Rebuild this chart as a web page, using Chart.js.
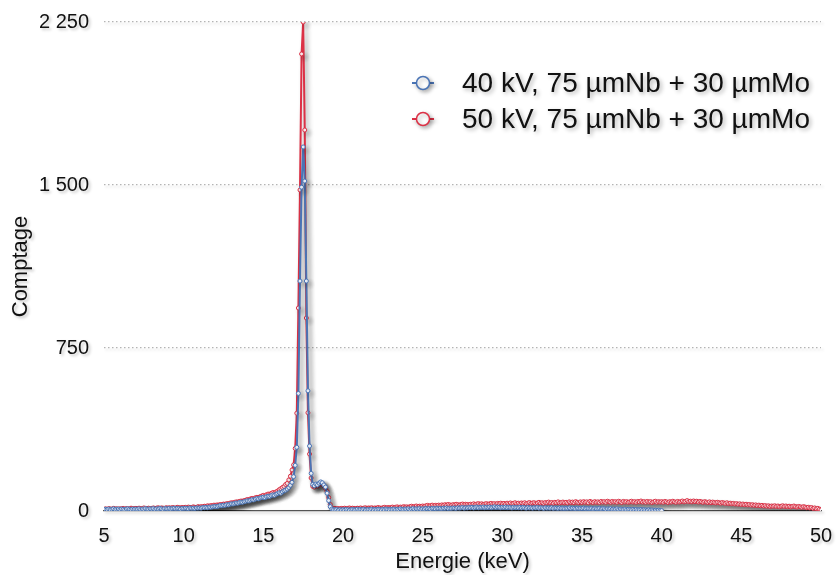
<!DOCTYPE html>
<html><head><meta charset="utf-8">
<script src="https://cdn.jsdelivr.net/npm/chart.js@4.4.1/dist/chart.umd.min.js"></script>
<style>html,body{margin:0;padding:0;background:#fff;}#wrap{width:836px;height:575px;position:relative;}</style>
</head><body><div id="wrap"><canvas id="c" width="836" height="575"></canvas></div>
<script>
// Energy grid (keV) of the spectra: first channel and channel width
const energyStart = 5.0;
const energyStep = 0.1;

// 40 kV, 75 µmNb + 30 µmMo  (5.0 .. 40.0 keV)
const counts40kV = [
  6, 8, 7, 9, 6, 8, 10, 7, 8, 9,
  7, 9, 8, 6, 9, 10, 8, 7, 9, 8,
  9, 8, 10, 7, 9, 8, 11, 9, 8, 10,
  9, 11, 8, 10, 9, 12, 10, 8, 11, 10,
  10, 12, 9, 11, 13, 10, 12, 11, 9, 12,
  11, 13, 12, 10, 14, 12, 13, 11, 14, 13,
  14, 13, 16, 15, 17, 15, 18, 17, 19, 20,
  21, 20, 23, 25, 24, 27, 26, 29, 28, 31,
  33, 32, 35, 37, 36, 39, 41, 40, 43, 45,
  47, 46, 50, 52, 51, 55, 57, 56, 60, 62,
  63, 61, 66, 68, 67, 71, 74, 72, 77, 80,
  84, 82, 88, 93, 96, 101, 108, 118, 132, 158,
  210, 293, 541, 1058, 1490, 1675, 1518, 1058, 553, 299,
  173, 122, 116, 124, 120, 128, 134, 130, 120, 110,
  82, 48, 20, 9, 6, 5, 7, 4, 6, 5,
  6, 5, 7, 6, 4, 6, 7, 5, 6, 8,
  5, 7, 6, 8, 5, 6, 7, 6, 8, 5,
  7, 6, 8, 7, 5, 8, 6, 9, 7, 6,
  8, 7, 9, 6, 8, 7, 10, 8, 7, 9,
  8, 10, 7, 9, 11, 8, 10, 9, 11, 8,
  10, 9, 12, 10, 11, 9, 12, 11, 10, 13,
  11, 12, 10, 13, 12, 14, 11, 13, 12, 14,
  13, 12, 15, 13, 14, 16, 13, 15, 14, 16,
  15, 17, 14, 16, 18, 15, 17, 16, 18, 15,
  17, 16, 18, 15, 17, 19, 16, 18, 17, 15,
  17, 16, 18, 15, 17, 16, 14, 17, 15, 16,
  15, 17, 14, 16, 15, 13, 16, 14, 15, 13,
  15, 14, 16, 13, 15, 14, 12, 15, 13, 14,
  13, 15, 12, 14, 13, 12, 14, 12, 13, 11,
  13, 12, 14, 11, 13, 12, 10, 13, 11, 12,
  11, 13, 10, 12, 11, 10, 12, 9, 11, 10,
  10, 12, 9, 11, 10, 8, 10, 9, 11, 8,
  9, 8, 10, 7, 9, 8, 7, 9, 6, 8,
  7, 6, 8, 6, 7, 5, 6, 7, 5, 6,
  5, 4, 6, 4, 5, 3, 4, 3, 4, 2,
  2
];

// 50 kV, 75 µmNb + 30 µmMo  (5.0 .. 50.0 keV)
const counts50kV = [
  8, 10, 7, 11, 9, 8, 12, 9, 10, 8,
  10, 9, 12, 8, 11, 10, 9, 13, 10, 11,
  12, 10, 13, 11, 9, 14, 12, 10, 13, 11,
  12, 14, 11, 13, 15, 12, 14, 13, 11, 15,
  13, 15, 12, 16, 14, 13, 17, 15, 14, 16,
  15, 17, 14, 18, 16, 15, 19, 17, 16, 20,
  18, 20, 19, 22, 21, 24, 22, 25, 24, 27,
  26, 28, 27, 30, 29, 32, 31, 34, 33, 36,
  38, 37, 40, 42, 41, 44, 46, 45, 48, 50,
  53, 52, 56, 58, 57, 61, 63, 62, 66, 69,
  72, 70, 75, 78, 77, 81, 85, 83, 88, 92,
  98, 103, 108, 113, 122, 127, 143, 160, 189, 212,
  288, 450, 934, 1477, 2103, 2250, 1753, 888, 452, 262,
  152, 114, 110, 118, 115, 122, 127, 125, 116, 104,
  90, 62, 30, 14, 10, 12, 9, 11, 10, 12,
  11, 13, 10, 12, 14, 11, 13, 12, 10, 13,
  12, 14, 11, 13, 15, 12, 14, 13, 15, 12,
  14, 13, 16, 14, 12, 15, 17, 14, 16, 15,
  16, 18, 15, 17, 19, 16, 18, 17, 20, 18,
  19, 17, 20, 22, 19, 21, 23, 20, 22, 21,
  23, 21, 24, 26, 23, 25, 27, 24, 26, 25,
  27, 25, 28, 26, 29, 27, 30, 28, 26, 29,
  28, 31, 29, 27, 30, 32, 29, 31, 30, 28,
  31, 29, 33, 30, 32, 34, 31, 33, 30, 32,
  34, 31, 33, 35, 32, 34, 31, 35, 33, 36,
  33, 35, 32, 36, 34, 37, 33, 35, 38, 34,
  36, 33, 37, 35, 38, 34, 36, 39, 35, 37,
  38, 35, 37, 40, 36, 38, 35, 39, 37, 41,
  37, 39, 36, 40, 38, 42, 37, 39, 41, 38,
  40, 37, 42, 39, 41, 38, 43, 40, 38, 42,
  39, 43, 40, 42, 38, 44, 41, 39, 43, 40,
  42, 39, 44, 41, 43, 40, 45, 42, 40, 44,
  41, 43, 40, 45, 42, 39, 44, 41, 43, 40,
  42, 45, 41, 43, 40, 44, 42, 46, 41, 43,
  40, 44, 41, 43, 39, 42, 45, 40, 43, 41,
  43, 40, 44, 42, 39, 43, 41, 45, 42, 40,
  44, 41, 43, 46, 42, 44, 48, 43, 45, 42,
  46, 43, 45, 41, 44, 42, 40, 43, 41, 39,
  42, 38, 41, 39, 37, 40, 38, 36, 39, 37,
  35, 38, 34, 36, 33, 35, 32, 34, 31, 33,
  30, 32, 29, 31, 28, 30, 27, 29, 26, 28,
  25, 27, 24, 26, 23, 25, 22, 24, 21, 23,
  22, 24, 21, 23, 20, 22, 24, 21, 23, 20,
  22, 19, 21, 23, 20, 18, 21, 19, 17, 20,
  18, 15, 17, 14, 16, 12, 14, 10, 12, 8,
  5
];

const seriesLabels = ['40 kV, 75 µmNb + 30 µmMo', '50 kV, 75 µmNb + 30 µmMo'];
const seriesColors = ['#4a74b5', '#dc3146'];
const xTicks = [5, 10, 15, 20, 25, 30, 35, 40, 45, 50];
const xTickLabels = ['5', '10', '15', '20', '25', '30', '35', '40', '45', '50'];
const yTicks = [0, 750, 1500, 2250];
const yTickLabels = ['0', '750', '1 500', '2 250'];
const xTitle = 'Energie (keV)';
const yTitle = 'Comptage';

const FONT = '"Liberation Sans", Arial, Helvetica, sans-serif';

function toPoints(arr) {
  return arr.map((v, i) => ({ x: energyStart + i * energyStep, y: v }));
}

const shadowPlugin = {
  id: 'shadow',
  beforeDraw(chart) {
    const c = chart.ctx;
    c.save();
    c.shadowColor = 'rgba(0,0,0,0.22)';
    c.shadowBlur = 3;
    c.shadowOffsetX = 2;
    c.shadowOffsetY = 2;
  },
  beforeDatasetsDraw(chart) {
    const c = chart.ctx;
    c.restore();
    c.save();
    c.shadowColor = 'rgba(0,0,0,0.32)';
    c.shadowBlur = 5;
    c.shadowOffsetX = 3;
    c.shadowOffsetY = 3;
  },
  afterDatasetsDraw(chart) { chart.ctx.restore(); }
};

const legendPlugin = {
  id: 'customLegend',
  afterDraw(chart) {
    const c = chart.ctx;
    const x0 = 423, ys = [83, 119];
    seriesLabels.forEach((lab, i) => {
      const y = ys[i];
      c.save();
      c.shadowColor = 'rgba(0,0,0,0.3)';
      c.shadowBlur = 4;
      c.shadowOffsetX = 2;
      c.shadowOffsetY = 2;
      c.strokeStyle = seriesColors[i];
      c.lineWidth = 2;
      c.beginPath(); c.moveTo(x0 - 11, y); c.lineTo(x0 + 11, y); c.stroke();
      c.beginPath(); c.arc(x0, y, 6.5, 0, Math.PI * 2);
      c.fillStyle = '#ffffff'; c.fill();
      c.lineWidth = 1.5; c.stroke();
      c.font = '28px ' + FONT;
      c.fillStyle = '#111';
      c.textBaseline = 'middle';
      c.textAlign = 'left';
      c.fillText(lab, 462, y + 1);
      c.restore();
    });
  }
};

new Chart(document.getElementById('c'), {
  type: 'line',
  data: {
    datasets: [
      {
        label: seriesLabels[0],
        data: toPoints(counts40kV),
        borderColor: seriesColors[0],
        backgroundColor: seriesColors[0],
        borderWidth: 2,
        pointRadius: 2,
        pointBorderWidth: 1,
        pointBackgroundColor: '#eef2fa',
        pointBorderColor: seriesColors[0],
        tension: 0,
        fill: false
      },
      {
        label: seriesLabels[1],
        data: toPoints(counts50kV),
        borderColor: seriesColors[1],
        backgroundColor: seriesColors[1],
        borderWidth: 2,
        pointRadius: 2,
        pointBorderWidth: 1,
        pointBackgroundColor: '#fdeef0',
        pointBorderColor: seriesColors[1],
        tension: 0,
        fill: false
      }
    ]
  },
  options: {
    responsive: false,
    devicePixelRatio: 1,
    animation: false,
    layout: { padding: { top: 22, right: 15, left: 0, bottom: 0 } },
    plugins: { legend: { display: false }, tooltip: { enabled: false } },
    scales: {
      x: {
        type: 'linear',
        min: 5, max: 50,
        afterBuildTicks: s => { s.ticks = xTicks.map(v => ({ value: v })); },
        afterFit: s => { s.height = 64; s.paddingLeft = 0; s.paddingRight = 0; },
        grid: { display: false, drawTicks: false },
        border: { display: true, color: '#555', width: 1.2 },
        ticks: {
          padding: 13, color: '#111', maxRotation: 0, autoSkip: false,
          font: { family: FONT, size: 20 },
          callback: v => xTickLabels[xTicks.indexOf(v)]
        },
        title: { display: true, text: xTitle, color: '#111', font: { family: FONT, size: 22 }, padding: { top: 0, bottom: 0 } }
      },
      y: {
        type: 'linear',
        min: 0, max: 2250,
        afterBuildTicks: s => { s.ticks = yTicks.map(v => ({ value: v })); },
        afterFit: s => { s.width = 104; s.paddingTop = 0; s.paddingBottom = 0; },
        grid: {
          drawTicks: false,
          color: ctx => (ctx.tick && ctx.tick.value === 0) ? 'rgba(0,0,0,0)' : '#b4b4b4',
          lineWidth: 1.2,
          borderDash: [1.5, 2.5]
        },
        border: { display: false, dash: [1.5, 2.5] },
        ticks: {
          padding: 15, color: '#111',
          font: { family: FONT, size: 20 },
          callback: v => yTickLabels[yTicks.indexOf(v)]
        },
        title: { display: true, text: yTitle, color: '#111', font: { family: FONT, size: 22 }, padding: { top: 8, bottom: 0 } }
      }
    }
  },
  plugins: [shadowPlugin, legendPlugin]
});
</script>
</body></html>
